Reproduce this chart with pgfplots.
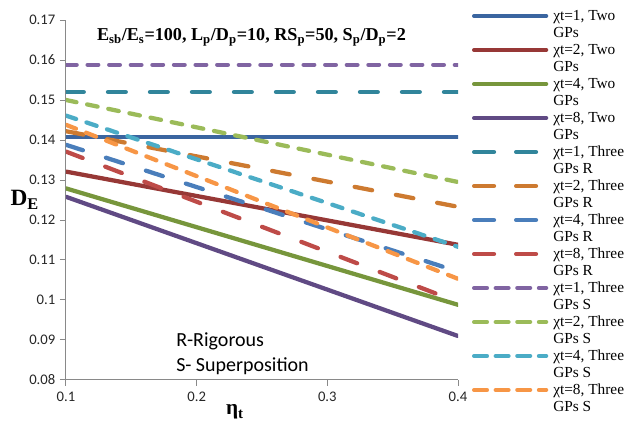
\documentclass[border=0pt]{standalone}
\usepackage{fontspec}
\setmainfont{Liberation Serif}
\newfontfamily\carlito{Carlito}
\usepackage{pgfplots}
\pgfplotsset{compat=1.18}
\definecolor{axisgray}{HTML}{898989}
\definecolor{sblue}{HTML}{3A65A0}
\definecolor{sred}{HTML}{973836}
\definecolor{sgreen}{HTML}{77963C}
\definecolor{spurple}{HTML}{604A84}
\definecolor{rteal}{HTML}{31859B}
\definecolor{rbrown}{HTML}{CD7A30}
\definecolor{rblue}{HTML}{4A7EBB}
\definecolor{rred}{HTML}{BE4B48}
\definecolor{qpurple}{HTML}{8064A2}
\definecolor{qgreen}{HTML}{9BBB59}
\definecolor{qaqua}{HTML}{4BACC6}
\definecolor{qorange}{HTML}{F79646}
\tikzset{
  Rdash/.style={dash pattern=on 13.3pt off 18.2pt},
  Sdash/.style={dash pattern=on 8pt off 8.2pt},
}
\begin{document}
\begin{tikzpicture}
\useasboundingbox (0,0) rectangle (474pt,318pt);
\begin{axis}[
  at={(49.5pt,33pt)}, anchor=south west,
  scale only axis, width=294pt, height=270pt,
  xmin=0.1, xmax=0.4, ymin=0.08, ymax=0.17,
  xtick={0.1,0.2,0.3,0.4},
  ytick={0.08,0.09,0.1,0.11,0.12,0.13,0.14,0.15,0.16,0.17},
  scaled x ticks=false, scaled y ticks=false,
  axis x line*=bottom, axis y line*=left,
  axis line style={draw=axisgray, line width=0.75pt},
  tick style={draw=axisgray, line width=0.75pt},
  tick align=outside, major tick length=4.5pt,
  /pgf/number format/assume math mode=true,
  /pgf/number format/fixed,
  /pgf/number format/precision=2,
  tick label style={font=\carlito\fontsize{11}{13}\selectfont, text=black!85},
  xticklabel style={yshift=-1pt},
  xlabel={\bfseries η\textsubscript{t}},
  xlabel style={at={(axis description cs:0.431,-0.089)}, anchor=center, font=\fontsize{16}{19}\selectfont},
  ylabel={\bfseries D\textsubscript{E}},
  ylabel style={at={(axis description cs:-0.105,0.5)}, rotate=-90, anchor=center, font=\fontsize{17.5}{20}\selectfont},
  every axis plot/.append style={line width=3.2pt, line cap=round, no marks},
  legend cell align=left,
  legend style={at={(1,1)}, anchor=north west, xshift=10.5pt, yshift=9.4pt,
    draw=none, fill=none, inner sep=0pt, outer sep=0pt, row sep=0pt, column sep=3.75pt,
    font=\fontsize{11.5}{12.75}\selectfont,
    nodes={inner sep=0pt, outer sep=0pt, text height=9.875pt, text depth=2.875pt}},
  legend image code/.code={\path (0pt,0pt) -- (54pt,0pt); \draw[#1] (1.6pt,0pt) -- (52.4pt,0pt);},
]
% Two GPs (solid)
\addplot[sblue] coordinates {(0.1,0.1407) (0.4,0.1407)};
\addlegendentry{χt=1, Two}
\addlegendimage{empty legend}\addlegendentry{GPs}
\addplot[sred] coordinates {(0.1,0.1321) (0.4,0.1138)};
\addlegendentry{χt=2, Two}
\addlegendimage{empty legend}\addlegendentry{GPs}
\addplot[sgreen] coordinates {(0.1,0.1279) (0.4,0.0988)};
\addlegendentry{χt=4, Two}
\addlegendimage{empty legend}\addlegendentry{GPs}
\addplot[spurple] coordinates {(0.1,0.1258) (0.4,0.0910)};
\addlegendentry{χt=8, Two}
\addlegendimage{empty legend}\addlegendentry{GPs}
% Three GPs R
\addplot[rteal, Rdash] coordinates {(0.1,0.1520) (0.4,0.1520)};
\addlegendentry{χt=1, Three}
\addlegendimage{empty legend}\addlegendentry{GPs R}
\addplot[rbrown, Rdash] coordinates {(0.1,0.1422) (0.4,0.1233)};
\addlegendentry{χt=2, Three}
\addlegendimage{empty legend}\addlegendentry{GPs R}
\addplot[rblue, Rdash] coordinates {(0.1,0.1388) (0.4,0.1071)};
\addlegendentry{χt=4, Three}
\addlegendimage{empty legend}\addlegendentry{GPs R}
\addplot[rred, Rdash] coordinates {(0.1,0.1371) (0.4,0.0995)};
\addlegendentry{χt=8, Three}
\addlegendimage{empty legend}\addlegendentry{GPs R}
% Three GPs S
\addplot[qpurple, Sdash] coordinates {(0.1,0.1588) (0.4,0.1588)};
\addlegendentry{χt=1, Three}
\addlegendimage{empty legend}\addlegendentry{GPs S}
\addplot[qgreen, Sdash] coordinates {(0.1,0.1500) (0.4,0.1295)};
\addlegendentry{χt=2, Three}
\addlegendimage{empty legend}\addlegendentry{GPs S}
\addplot[qaqua, Sdash] coordinates {(0.1,0.1461) (0.4,0.1133)};
\addlegendentry{χt=4, Three}
\addlegendimage{empty legend}\addlegendentry{GPs S}
\addplot[qorange, Sdash] coordinates {(0.1,0.1438) (0.4,0.1053)};
\addlegendentry{χt=8, Three}
\addlegendimage{empty legend}\addlegendentry{GPs S}
\node[anchor=base, font=\bfseries\fontsize{13.6}{16}\selectfont] at (axis description cs:0.473,0.9425)
  {E\textsubscript{sb}/E\textsubscript{s}=100, L\textsubscript{p}/D\textsubscript{p}=10, RS\textsubscript{p}=50, S\textsubscript{p}/D\textsubscript{p}=2};
\node[anchor=base west, inner sep=0pt, font=\carlito\fontsize{15}{18}\selectfont] at (axis description cs:0.2806,0.0925) {R-Rigorous};
\node[anchor=base west, inner sep=0pt, font=\carlito\fontsize{15}{18}\selectfont] at (axis description cs:0.2806,0.023) {S- Superposition};
\end{axis}
\end{tikzpicture}
\end{document}
